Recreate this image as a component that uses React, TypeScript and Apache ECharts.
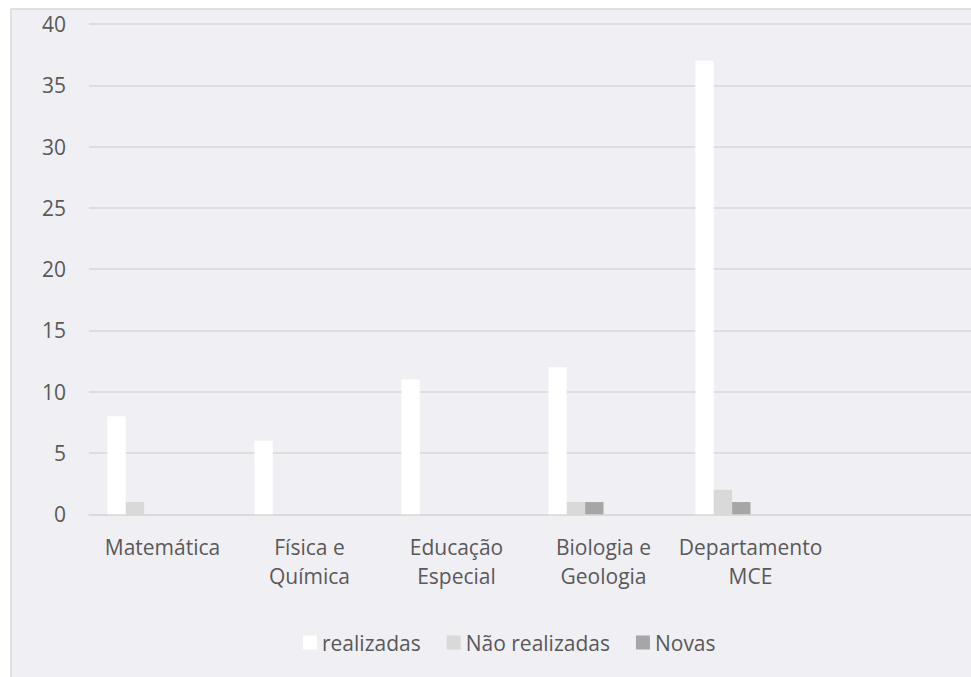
import React, { useEffect, useRef } from "react";
import * as echarts from "echarts";

const categories = [
  "Matemática",
  "Física e\nQuímica",
  "Educação\nEspecial",
  "Biologia e\nGeologia",
  "Departamento\nMCE",
  "",
];
const realizadas = [8, 6, 11, 12, 37, null];
const naoRealizadas = [1, 0, 0, 1, 2, null];
const novas = [0, 0, 0, 1, 1, null];
const emptySeries = [null, null, null, null, null, null];
const seriesNames = ["realizadas", "Não realizadas", "Novas"];
const yTicks = { min: 0, max: 40, interval: 5 };

const FONT = "'Open Sans', sans-serif";
const TXT = "#595959";
const GRIDC = "#d9d9d9";

export default function App() {
  const ref = useRef<HTMLDivElement>(null);
  useEffect(() => {
    if (!ref.current) return;
    const chart = echarts.init(ref.current, undefined, { renderer: "svg" });
    const colors = ["#ffffff", "#d9d9d9", "#a6a6a6"];
    const mk = (name: string, data: (number | null)[], color: string) => ({
      name,
      type: "bar",
      data,
      barGap: "0%",
      barCategoryGap: "25%",
      itemStyle: { color },
      emphasis: { disabled: true },
    });
    chart.setOption({
      animation: false,
      backgroundColor: "#ffffff",
      graphic: [
        {
          type: "rect",
          z: -10,
          silent: true,
          shape: { x: 11, y: 9, width: 1000, height: 700 },
          style: { fill: "#f0eff4", stroke: "#d9d9d9", lineWidth: 1.5 },
        },
      ],
      grid: { left: 89, top: 24, right: -3, bottom: 162.7 },
      legend: {
        data: seriesNames,
        bottom: 19,
        left: 298,
        icon: "rect",
        itemWidth: 14,
        itemHeight: 14,
        itemGap: 26,
        textStyle: { color: TXT, fontSize: 21, fontFamily: FONT },
        selectedMode: false,
      },
      xAxis: {
        type: "category",
        data: categories,
        axisLine: { lineStyle: { color: GRIDC, width: 1.5 } },
        axisTick: { show: false },
        axisLabel: {
          color: TXT,
          fontSize: 21,
          fontFamily: FONT,
          lineHeight: 29,
          margin: 18,
          interval: 0,
        },
      },
      yAxis: {
        type: "value",
        min: yTicks.min,
        max: yTicks.max,
        interval: yTicks.interval,
        axisLine: { show: false },
        axisTick: { show: false },
        splitLine: { lineStyle: { color: GRIDC, width: 1.5 } },
        axisLabel: { color: TXT, fontSize: 21, fontFamily: FONT, margin: 23 },
      },
      series: [
        mk(seriesNames[0], realizadas, colors[0]),
        mk(seriesNames[1], naoRealizadas, colors[1]),
        mk(seriesNames[2], novas, colors[2]),
        mk("s4", emptySeries, "#000"),
        mk("s5", emptySeries, "#000"),
        mk("s6", emptySeries, "#000"),
      ],
    });
    return () => chart.dispose();
  }, []);
  return (
    <div
      ref={ref}
      style={{ position: "fixed", left: 0, top: 0, width: 971, height: 677 }}
    />
  );
}
